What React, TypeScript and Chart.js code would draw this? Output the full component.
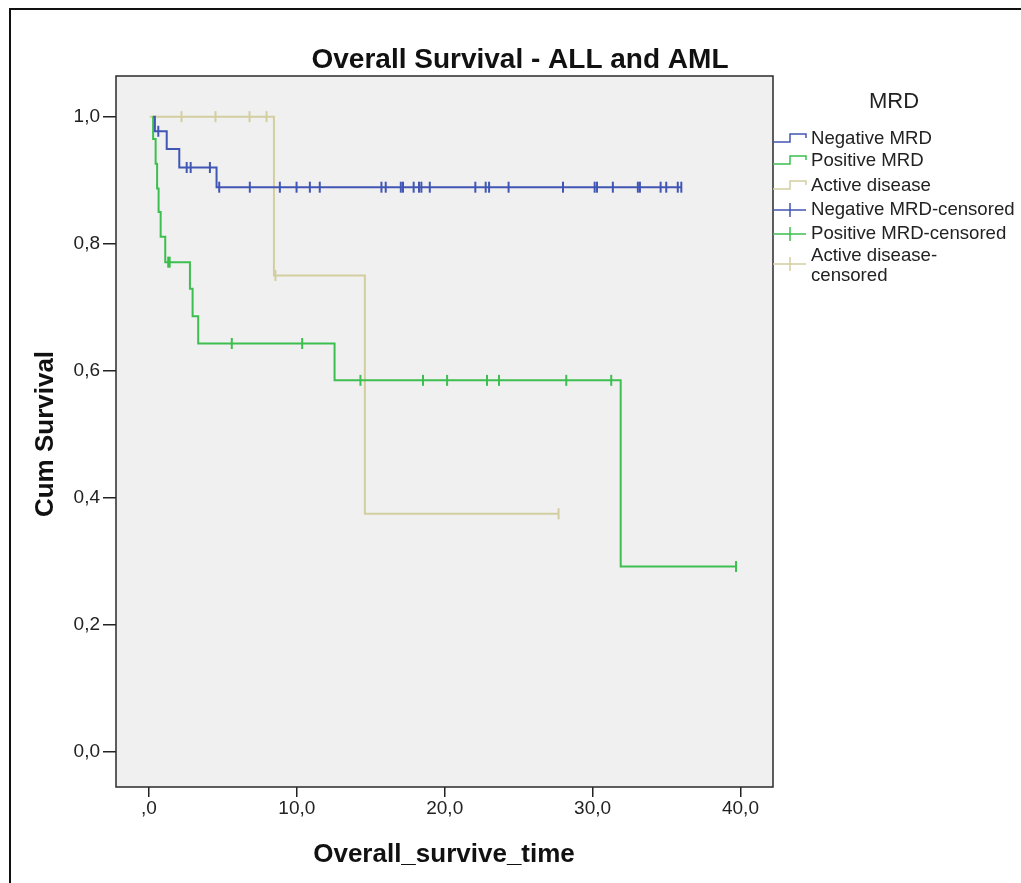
import React, { useEffect, useRef } from "react";
import { Chart, registerables } from "chart.js";

Chart.register(...registerables);

// ---------- data ----------
const X_TICKS = [0, 10, 20, 30, 40];
const Y_TICKS = [0, 0.2, 0.4, 0.6, 0.8, 1.0];

// Negative MRD (Kaplan-Meier steps: time, survival after event)
const NEG_TIMES = [0.3, 0.4, 1.2, 2.05, 4.57, 36.0];
const NEG_SURV = [1.0, 0.977, 0.949, 0.92, 0.889, 0.889];
const NEG_CENSORED = [
  0.63, 2.55, 2.82, 4.12, 4.75, 6.82, 8.85, 9.98, 10.88, 11.55, 15.72, 16.01,
  17.03, 17.18, 17.9, 18.26, 18.42, 18.99, 22.07, 22.77, 23.0, 24.32, 28.0,
  30.14, 30.3, 31.37, 33.06, 33.2, 34.6, 34.98, 35.76, 36.0,
];

// Positive MRD
const POS_TIMES = [0.25, 0.28, 0.45, 0.55, 0.65, 0.79, 1.1, 2.77, 2.95, 3.33, 12.55, 31.9, 39.75];
const POS_SURV = [1.0, 0.965, 0.926, 0.887, 0.85, 0.811, 0.771, 0.729, 0.686, 0.643, 0.585, 0.292, 0.292];
const POS_CENSORED = [1.3, 1.4, 5.6, 10.36, 14.3, 18.53, 20.16, 22.86, 23.67, 28.22, 31.26, 39.7];

// Active disease
const ACT_TIMES = [0.05, 8.45, 14.6, 27.7];
const ACT_SURV = [1.0, 0.75, 0.375, 0.375];
const ACT_CENSORED = [2.2, 4.5, 6.8, 7.95, 8.55, 27.7];

const TITLE = "Overall Survival - ALL and AML";
const X_TITLE = "Overall_survive_time";
const Y_TITLE = "Cum Survival";
const LEGEND_TITLE = "MRD";
const LEGEND_LABELS = [
  ["Negative MRD"],
  ["Positive MRD"],
  ["Active disease"],
  ["Negative MRD-censored"],
  ["Positive MRD-censored"],
  ["Active disease-", "censored"],
];

// ---------- styles ----------
const BLUE = "#4156b4";
const GREEN = "#3dbf4f";
const TAN = "#d3cea0";
const FONT = "'Liberation Sans', Arial, sans-serif";
const W = 1021;
const H = 883;

const xFmt = (v: number) => (Math.abs(v) < 1e-9 ? ",0" : v.toFixed(1).replace(".", ","));
const yFmt = (v: number) => v.toFixed(1).replace(".", ",");

function stepValue(t: number, times: number[], surv: number[]) {
  let v = surv[0];
  for (let i = 0; i < times.length; i++) if (times[i] <= t + 1e-9) v = surv[i];
  return v;
}

function curve(times: number[], surv: number[]) {
  return times.map((t, i) => ({ x: t, y: surv[i] }));
}
function censors(c: number[], times: number[], surv: number[]) {
  return c.map((t) => ({ x: t, y: stepValue(t, times, surv) }));
}

const framePlugin = {
  id: "frame",
  beforeDraw(chart: any) {
    const { ctx, chartArea: a } = chart;
    ctx.save();
    ctx.fillStyle = "#ffffff";
    ctx.fillRect(0, 0, W, H);
    ctx.fillStyle = "#f0f0f0";
    ctx.fillRect(a.left, a.top, a.right - a.left, a.bottom - a.top);
    ctx.restore();
  },
  afterDraw(chart: any) {
    const { ctx, chartArea: a } = chart;
    ctx.save();
    // plot frame
    ctx.strokeStyle = "#2a2a2a";
    ctx.lineWidth = 1.5;
    ctx.strokeRect(a.left, a.top, a.right - a.left, a.bottom - a.top);
    // outer figure frame
    ctx.strokeStyle = "#111";
    ctx.lineWidth = 2;
    ctx.beginPath();
    ctx.moveTo(10, H);
    ctx.lineTo(10, 9);
    ctx.lineTo(W, 9);
    ctx.stroke();

    ctx.fillStyle = "#111";
    // title
    ctx.font = `bold 28px ${FONT}`;
    ctx.textAlign = "center";
    ctx.textBaseline = "middle";
    ctx.fillText(TITLE, 520, 60);
    // x title
    ctx.font = `bold 26px ${FONT}`;
    ctx.fillText(X_TITLE, 444, 855);
    // y title
    ctx.save();
    ctx.translate(46, 434);
    ctx.rotate(-Math.PI / 2);
    ctx.fillText(Y_TITLE, 0, 0);
    ctx.restore();

    // legend
    const lx = a.right;
    ctx.fillStyle = "#222";
    ctx.font = `22px ${FONT}`;
    ctx.textAlign = "center";
    ctx.fillText(LEGEND_TITLE, 894, 102);
    const colors = [BLUE, GREEN, TAN, BLUE, GREEN, TAN];
    const rowsY = [139, 161, 186, 210, 234, 256];
    ctx.font = `18.6px ${FONT}`;
    ctx.textAlign = "left";
    LEGEND_LABELS.forEach((lines, i) => {
      const y = rowsY[i];
      ctx.strokeStyle = colors[i];
      ctx.lineWidth = 1.5;
      ctx.beginPath();
      if (i < 3) {
        ctx.moveTo(lx, y + 3);
        ctx.lineTo(lx + 17, y + 3);
        ctx.lineTo(lx + 17, y - 5);
        ctx.lineTo(lx + 33, y - 5);
        ctx.lineTo(lx + 33, y - 1);
      } else {
        const cy = lines.length > 1 ? y + 8 : y;
        ctx.moveTo(lx, cy);
        ctx.lineTo(lx + 33, cy);
        ctx.moveTo(lx + 17, cy - 7);
        ctx.lineTo(lx + 17, cy + 7);
      }
      ctx.stroke();
      ctx.fillStyle = "#222";
      lines.forEach((s, j) => ctx.fillText(s, lx + 38, y + j * 20));
    });
    ctx.restore();
  },
};

export default function App() {
  const ref = useRef<HTMLCanvasElement | null>(null);
  useEffect(() => {
    if (!ref.current) return;
    const lineDs = (label: string, d: any[], color: string, order: number) => ({
      label,
      data: d,
      borderColor: color,
      backgroundColor: color,
      borderWidth: 2,
      pointRadius: 0,
      stepped: "before" as const,
      fill: false,
      order,
    });
    const censDs = (label: string, d: any[], color: string, order: number) => ({
      label,
      data: d,
      showLine: false,
      borderColor: color,
      backgroundColor: color,
      pointStyle: "line" as const,
      rotation: 90,
      pointRadius: 5.5,
      pointBorderWidth: 2,
      order,
    });
    const chart = new Chart(ref.current, {
      type: "line",
      data: {
        datasets: [
          lineDs("Negative MRD", curve(NEG_TIMES, NEG_SURV), BLUE, 1),
          censDs("Negative MRD-censored", censors(NEG_CENSORED, NEG_TIMES, NEG_SURV), BLUE, 0),
          lineDs("Positive MRD", curve(POS_TIMES, POS_SURV), GREEN, 3),
          censDs("Positive MRD-censored", censors(POS_CENSORED, POS_TIMES, POS_SURV), GREEN, 2),
          lineDs("Active disease", curve(ACT_TIMES, ACT_SURV), TAN, 5),
          censDs("Active disease-censored", censors(ACT_CENSORED, ACT_TIMES, ACT_SURV), TAN, 4),
        ],
      },
      options: {
        responsive: false,
        animation: false,
        devicePixelRatio: 1,
        layout: { padding: { left: 0, top: 76, right: 248, bottom: 0 } },
        plugins: {
          legend: { display: false },
          tooltip: { enabled: false },
          title: { display: false },
        },
        scales: {
          x: {
            type: "linear",
            min: -2.23,
            max: 42.2,
            afterFit: (s: any) => {
              s.height = 96;
            },
            afterBuildTicks: (s: any) => {
              s.ticks = X_TICKS.map((v) => ({ value: v }));
            },
            border: { display: false },
            grid: {
              drawOnChartArea: false,
              drawTicks: true,
              tickLength: 10,
              color: "#222",
              lineWidth: 1.5,
            },
            ticks: {
              color: "#222",
              font: { family: FONT, size: 19 },
              padding: 0,
              maxRotation: 0,
              callback: (v: any) => xFmt(Number(v)),
            },
          },
          y: {
            type: "linear",
            min: -0.055,
            max: 1.064,
            afterFit: (s: any) => {
              s.width = 116;
            },
            afterBuildTicks: (s: any) => {
              s.ticks = Y_TICKS.map((v) => ({ value: v }));
            },
            border: { display: false },
            grid: {
              drawOnChartArea: false,
              drawTicks: true,
              tickLength: 13,
              color: "#222",
              lineWidth: 1.5,
            },
            ticks: {
              color: "#222",
              font: { family: FONT, size: 19 },
              padding: 3,
              callback: (v: any) => yFmt(Number(v)),
            },
          },
        },
      },
      plugins: [framePlugin],
    });
    return () => chart.destroy();
  }, []);
  return (
    <div style={{ position: "absolute", left: 0, top: 0, width: W, height: H, background: "#fff" }}>
      <canvas ref={ref} width={W} height={H} style={{ display: "block", width: W, height: H }} />
    </div>
  );
}
